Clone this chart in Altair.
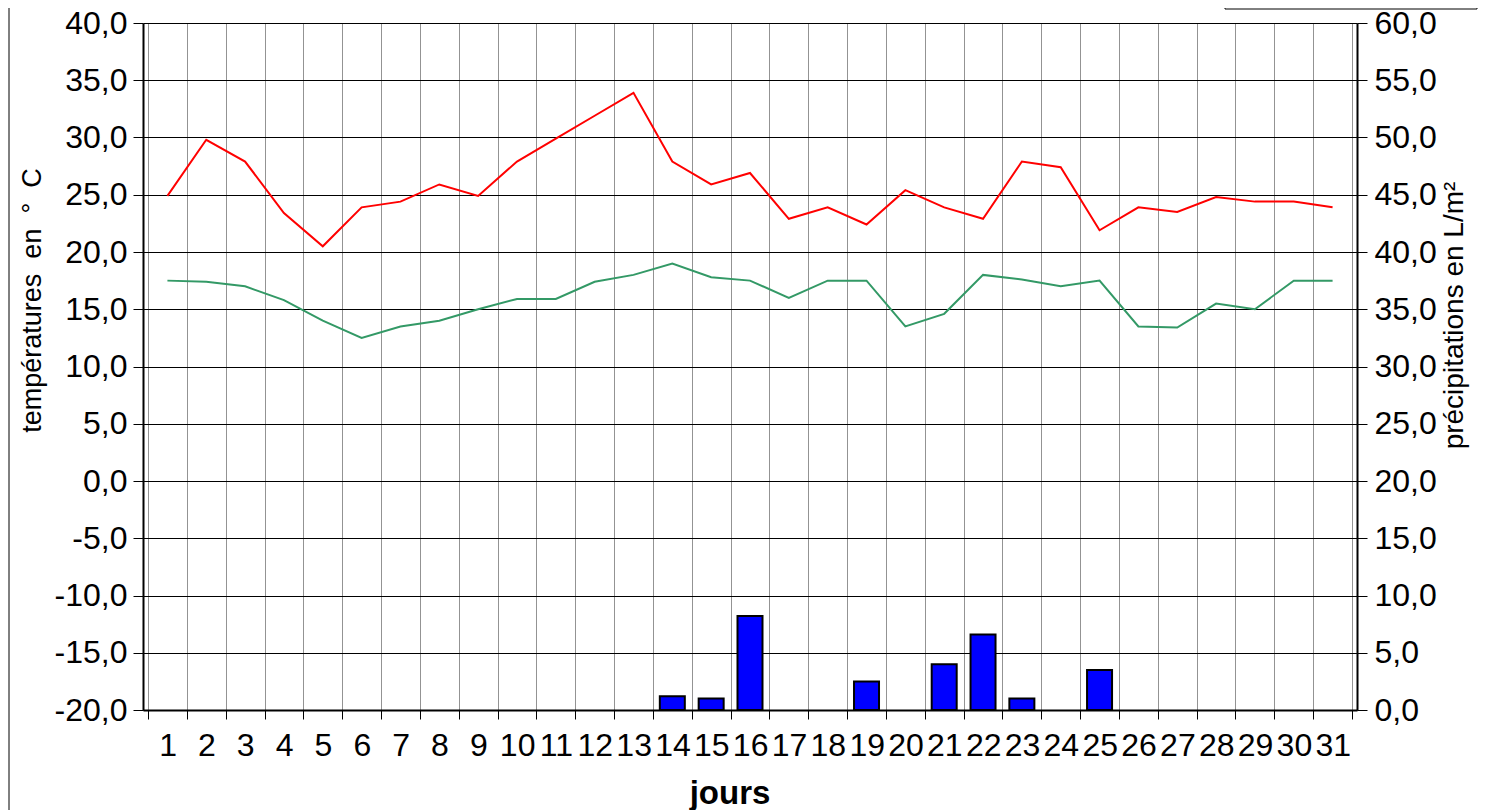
import altair as alt
import pandas as pd

days = list(range(1, 32))
tmax = [24.9, 29.8, 27.9, 23.4, 20.5, 23.9, 24.4, 25.9, 24.9, 27.9, 29.9, 31.9, 33.9,
        27.9, 25.9, 26.9, 22.9, 23.9, 22.4, 25.4, 23.9, 22.9, 27.9, 27.4, 21.9, 23.9,
        23.5, 24.8, 24.4, 24.4, 23.9]
tmin = [17.5, 17.4, 17.0, 15.8, 14.0, 12.5, 13.5, 14.0, 15.0, 15.9, 15.9, 17.4, 18.0,
        19.0, 17.8, 17.5, 16.0, 17.5, 17.5, 13.5, 14.6, 18.0, 17.6, 17.0, 17.5, 13.5,
        13.4, 15.5, 15.0, 17.5, 17.5]
precip = [0, 0, 0, 0, 0, 0, 0, 0, 0, 0, 0, 0, 0,
          1.2, 1.0, 8.2, 0, 0, 2.5, 0, 4.0, 6.6, 1.0, 0, 3.5, 0, 0, 0, 0, 0, 0]
temp_ticks = [-20, -15, -10, -5, 0, 5, 10, 15, 20, 25, 30, 35, 40]
prec_ticks = [0, 5, 10, 15, 20, 25, 30, 35, 40, 45, 50, 55, 60]
day_bounds = [d - 0.5 for d in days] + [days[-1] + 0.5]

FONT = "Liberation Sans"
W, H = 1214, 687
band = W / len(days)

temps = pd.DataFrame({
    "day": days * 2,
    "val": tmax + tmin,
    "serie": ["max"] * len(days) + ["min"] * len(days),
})
rain = pd.DataFrame({"day": days, "precip": precip})

xscale = alt.Scale(domain=[day_bounds[0], day_bounds[-1]], nice=False, zero=False)
xaxis = alt.Axis(
    values=day_bounds,
    grid=True, gridColor="#000000", gridDash=[1, 1], gridWidth=1, gridOpacity=0.85,
    ticks=True, tickSize=9, tickColor="black", tickWidth=1,
    domain=True, domainColor="black", domainWidth=2,
    labelExpr="datum.value < 31 ? toString(datum.value + 0.5) : ''",
    labelOffset=band / 2, labelFlush=False, labelOverlap=False, labelBound=False,
    labelFont=FONT, labelFontSize=32, labelColor="black",
    labelBaseline="alphabetic", labelPadding=36, labelAlign="center",
    title="jours", titleFont=FONT, titleFontSize=33, titleFontWeight="bold",
    titleColor="black", titleX=586.5, titleY=93, titleBaseline="alphabetic",
    titleAlign="center",
)
x_enc = alt.X("day:Q", scale=xscale, axis=xaxis)

lab_expr = "(datum.value < 0 ? '-' : '') + replace(format(abs(datum.value), '.1f'), '.', ',')"

lines = alt.Chart(temps).mark_line(strokeWidth=2).encode(
    x=x_enc,
    y=alt.Y("val:Q", scale=alt.Scale(domain=[-20, 40], nice=False, zero=False),
            axis=alt.Axis(
                values=temp_ticks, grid=True, gridColor="black", gridWidth=1,
                tickSize=10, tickColor="black", domainColor="black", domainWidth=2,
                labelExpr=lab_expr, labelFont=FONT, labelFontSize=32, labelColor="black",
                labelPadding=6,
                title="températures\u00a0\u00a0en\u00a0\u00a0°\u00a0\u00a0C",
                titleFont=FONT, titleFontSize=27, titleFontWeight="normal",
                titleColor="black", titleAngle=270, titleX=-103, titleY=277,
                titleBaseline="alphabetic", titleAlign="center",
            )),
    color=alt.Color("serie:N", scale=alt.Scale(domain=["max", "min"],
                                               range=["#FF0000", "#339966"]),
                    legend=None),
)

bars = alt.Chart(rain).transform_filter("datum.precip > 0").mark_bar(
    width=25, color="#0000FF", stroke="black", strokeWidth=2
).encode(
    x=x_enc,
    y=alt.Y("precip:Q", scale=alt.Scale(domain=[0, 60], nice=False, zero=True),
            axis=alt.Axis(
                values=prec_ticks, grid=False, orient="right",
                tickSize=10, tickColor="black", domainColor="black", domainWidth=2,
                labelExpr=lab_expr, labelFont=FONT, labelFontSize=32, labelColor="black",
                labelPadding=7,
                title="précipitations\u00a0en\u00a0L/m²",
                titleFont=FONT, titleFontSize=28, titleFontWeight="normal",
                titleColor="black", titleAngle=270, titleX=105, titleY=292,
                titleBaseline="alphabetic", titleAlign="center",
            )),
)

deco = pd.DataFrame({"k": [0]})
legend_box = alt.Chart(deco).mark_rect(fill="white", stroke="black", strokeWidth=1).encode(
    x=alt.value(1082), x2=alt.value(1334), y=alt.value(-40), y2=alt.value(-14)
)
frame_l = alt.Chart(deco).mark_rule(color="black", strokeWidth=1).encode(
    x=alt.value(-134), y=alt.value(-20), y2=alt.value(900)
)

chart = alt.layer(lines, bars, legend_box, frame_l).resolve_scale(
    y="independent"
).properties(
    width=W, height=H,
    autosize=alt.AutoSizeParams(type="none"),
    padding={"left": 135, "top": 15, "right": 125, "bottom": 100},
).configure_view(stroke="black", strokeWidth=2).configure(background="white")

chart.save("out.html", embed_options={"renderer": "svg", "actions": False})
